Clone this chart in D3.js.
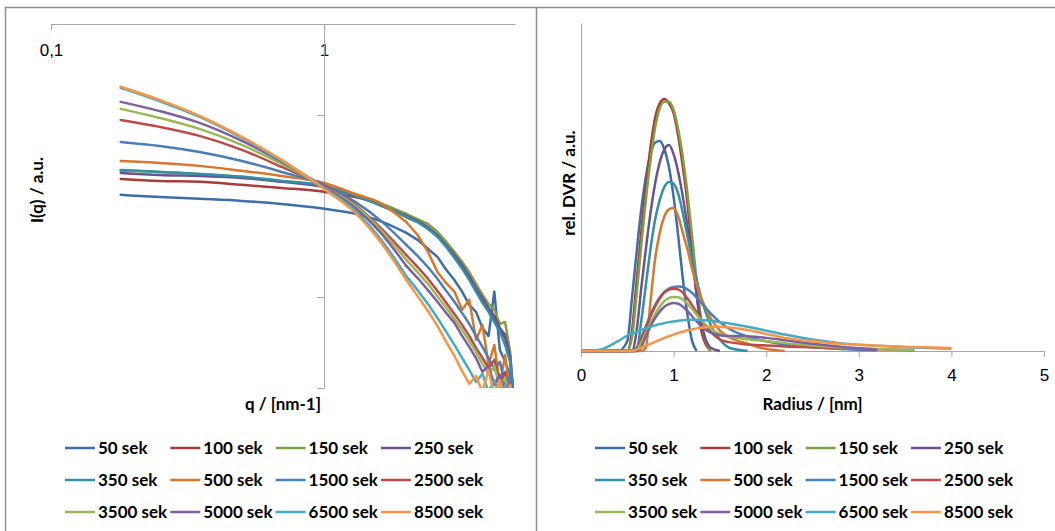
<!DOCTYPE html>
<html>
<head>
<meta charset="utf-8">
<script src="https://cdn.jsdelivr.net/npm/d3@7"></script>
<style>
  body { margin: 0; background: #fff; }
  svg { display: block; font-family: Lato, "Liberation Sans", sans-serif; }
</style>
</head>
<body>
<svg id="chart" width="1055" height="531"></svg>
<script>
const seriesNames = ["50 sek", "100 sek", "150 sek", "250 sek", "350 sek", "500 sek",
  "1500 sek", "2500 sek", "3500 sek", "5000 sek", "6500 sek", "8500 sek"];
const seriesColors = ["#3d6ea8", "#a63d3a", "#80a045", "#6b5390", "#3290a6", "#d9772d",
  "#4a7ebb", "#be4b48", "#98b954", "#7d60a0", "#46aac5", "#f79646"];

// scattering curves, q in nm-1
const qValues = [0.18, 0.25, 0.35, 0.5, 0.7, 1.0, 1.3, 1.6, 2.0, 2.2, 2.4, 2.6, 2.8, 3.0,
  3.2, 3.4, 3.6, 3.8, 4.0, 4.2, 4.4, 4.6, 4.8, 5.0];
const iq50 = [3.64, 3.54, 3.46, 3.37, 3.24, 3.05, 2.86, 2.62, 2.25, 2.06, 1.84, 1.66, 1.41, 1.24, 1.07, 0.905, 0.828, 0.676, 0.611, 1.07, 0.512, 0.44, 0.373, 0.272];
const iq100 = [4.45, 4.34, 4.29, 4.13, 3.97, 3.78, 3.54, 3.24, 2.75, 2.58, 2.39, 2.16, 1.91, 1.66, 1.46, 1.27, 1.09, 0.964, 0.849, 0.767, 0.659, 0.596, 0.451, 0.239];
const iq150 = [4.93, 4.86, 4.74, 4.57, 4.34, 4.07, 3.64, 3.29, 2.86, 2.68, 2.52, 2.28, 2.01, 1.77, 1.56, 1.37, 1.18, 1.03, 0.916, 0.849, 0.711, 0.729, 0.499, 0.211];
const iq250 = [4.80, 4.68, 4.62, 4.51, 4.29, 4.02, 3.59, 3.20, 2.79, 2.62, 2.42, 2.19, 1.93, 1.70, 1.50, 1.30, 1.12, 0.988, 0.871, 0.787, 0.676, 0.619, 0.474, 0.225];
const iq350 = [4.99, 4.86, 4.74, 4.57, 4.34, 4.07, 3.59, 3.20, 2.75, 2.58, 2.36, 2.14, 1.88, 1.64, 1.43, 1.24, 1.07, 0.928, 0.828, 0.729, 0.643, 0.545, 0.44, 0.239];
const iq500 = [5.59, 5.45, 5.25, 4.93, 4.62, 4.23, 3.68, 3.29, 2.58, 2.19, 1.77, 1.37, 1.19, 1.07, 0.849, 0.964, 0.581, 0.702, 0.423, 0.545, 0.329, 0.48, 0.289, 0.211];
const iq1500 = [7.11, 6.76, 6.26, 5.59, 4.86, 4.13, 3.33, 2.65, 1.93, 1.68, 1.46, 1.26, 1.08, 0.94, 0.817, 0.711, 0.611, 0.532, 0.462, 0.397, 0.44, 0.333, 0.368, 0.255];
const iq2500 = [9.39, 8.60, 7.67, 6.43, 5.18, 4.07, 3.20, 2.42, 1.70, 1.46, 1.26, 1.08, 0.928, 0.807, 0.702, 0.611, 0.525, 0.462, 0.407, 0.451, 0.341, 0.387, 0.289, 0.239];
const iq3500 = [10.8, 9.63, 8.38, 6.84, 5.38, 4.02, 3.16, 2.36, 1.60, 1.37, 1.18, 1.01, 0.871, 0.758, 0.659, 0.573, 0.499, 0.429, 0.378, 0.418, 0.316, 0.359, 0.278, 0.225];
const iq5000 = [11.8, 10.5, 9.04, 7.20, 5.52, 4.02, 3.08, 2.28, 1.48, 1.27, 1.09, 0.94, 0.817, 0.72, 0.611, 0.532, 0.462, 0.387, 0.418, 0.329, 0.373, 0.30, 0.341, 0.211];
const iq6500 = [14.1, 11.9, 9.76, 7.48, 5.59, 3.97, 2.97, 2.11, 1.30, 1.09, 0.916, 0.767, 0.643, 0.545, 0.462, 0.397, 0.341, 0.378, 0.30, 0.35, 0.278, 0.324, 0.272, 0.211];
const iq8500 = [14.3, 12.1, 9.88, 7.57, 5.66, 3.92, 2.90, 2.03, 1.24, 1.01, 0.838, 0.693, 0.566, 0.474, 0.392, 0.333, 0.368, 0.30, 0.397, 0.289, 0.35, 0.272, 0.329, 0.211];
const iqSeries = [iq50, iq100, iq150, iq250, iq350, iq500, iq1500, iq2500, iq3500, iq5000, iq6500, iq8500];
const qTicks = [0.1, 1];
const iqTicks = [10, 1, 0.316];
const noisyFrom = 8; // index in qValues where the tails get noisy

// size distributions, radius in nm
const radius = [0, 0.2, 0.4, 0.5, 0.55, 0.6, 0.65, 0.7, 0.75, 0.8, 0.85, 0.9, 0.95, 1.0, 1.05,
  1.1, 1.15, 1.2, 1.25, 1.3, 1.4, 1.5, 1.6, 1.8, 2.0, 2.2, 2.5, 2.8, 3.2, 3.6, 4.0];
const dvr50 = [0, 0, 0, 0.03, 0.16, 0.30, 0.43, 0.53, 0.60, 0.635, 0.64, 0.615, 0.56, 0.47, 0.35, 0.22, 0.11, 0.03, 0, null, null, null, null, null, null, null, null, null, null, null, null];
const dvr100 = [0, 0, 0, 0, 0.06, 0.21, 0.36, 0.50, 0.62, 0.71, 0.755, 0.768, 0.755, 0.725, 0.655, 0.56, 0.45, 0.30, 0.17, 0.06, 0, null, null, null, null, null, null, null, null, null, null];
const dvr150 = [0, 0, 0, 0, 0.04, 0.17, 0.32, 0.46, 0.58, 0.68, 0.74, 0.76, 0.76, 0.735, 0.675, 0.59, 0.48, 0.35, 0.21, 0.09, 0, null, null, null, null, null, null, null, null, null, null];
const dvr250 = [0, 0, 0, 0, 0, 0.06, 0.19, 0.31, 0.42, 0.51, 0.575, 0.615, 0.628, 0.60, 0.545, 0.47, 0.38, 0.28, 0.17, 0.085, 0.01, 0, null, null, null, null, null, null, null, null, null];
const dvr350 = [0, 0, 0, 0, 0, 0, 0.09, 0.20, 0.31, 0.40, 0.46, 0.50, 0.515, 0.51, 0.48, 0.42, 0.35, 0.28, 0.216, 0.16, 0.08, 0.035, 0.01, 0, null, null, null, null, null, null, null];
const dvr500 = [0, 0, 0, 0, 0, 0, 0, 0.01, 0.15, 0.28, 0.36, 0.41, 0.432, 0.436, 0.41, 0.36, 0.31, 0.25, 0.20, 0.16, 0.10, 0.062, 0.042, 0.022, 0.006, 0, null, null, null, null, null];
const dvr1500 = [0, 0, 0, 0, 0, 0.01, 0.04, 0.075, 0.11, 0.14, 0.163, 0.18, 0.19, 0.195, 0.197, 0.195, 0.188, 0.177, 0.162, 0.147, 0.115, 0.088, 0.068, 0.044, 0.03, 0.02, 0.012, 0.006, 0.002, null, null];
const dvr2500 = [0, 0, 0, 0, 0, 0.005, 0.035, 0.07, 0.105, 0.135, 0.16, 0.178, 0.187, 0.19, 0.188, 0.178, 0.16, 0.14, 0.118, 0.095, 0.058, 0.035, 0.027, 0.02, 0.017, 0.014, 0.011, 0.008, 0.005, 0.002, null];
const dvr3500 = [0, 0, 0, 0, 0, 0.003, 0.025, 0.055, 0.085, 0.112, 0.135, 0.152, 0.162, 0.165, 0.164, 0.157, 0.144, 0.128, 0.11, 0.093, 0.068, 0.052, 0.044, 0.036, 0.03, 0.024, 0.017, 0.011, 0.006, 0.003, null];
const dvr5000 = [0, 0, 0, 0, 0, 0, 0.012, 0.045, 0.075, 0.10, 0.12, 0.135, 0.143, 0.146, 0.144, 0.135, 0.122, 0.106, 0.09, 0.075, 0.056, 0.048, 0.046, 0.045, 0.04, 0.033, 0.022, 0.013, 0.004, null, null];
const dvr6500 = [0, 0.004, 0.03, 0.047, 0.053, 0.058, 0.064, 0.069, 0.074, 0.078, 0.082, 0.085, 0.088, 0.09, 0.092, 0.094, 0.095, 0.095, 0.095, 0.094, 0.092, 0.088, 0.084, 0.074, 0.062, 0.05, 0.035, 0.024, 0.016, 0.011, 0.007];
const dvr8500 = [0, 0, 0, 0, 0, 0.004, 0.01, 0.016, 0.022, 0.028, 0.034, 0.04, 0.045, 0.05, 0.055, 0.059, 0.063, 0.066, 0.069, 0.071, 0.074, 0.074, 0.072, 0.064, 0.052, 0.04, 0.03, 0.022, 0.016, 0.012, 0.009];
const dvrSeries = [dvr50, dvr100, dvr150, dvr250, dvr350, dvr500, dvr1500, dvr2500, dvr3500, dvr5000, dvr6500, dvr8500];
const radiusTicks = [0, 1, 2, 3, 4, 5];

const axisColor = "#a6a6a6";
const fontSize = 17;

const svg = d3.select("#chart");

// panel frames
svg.append("path")
  .attr("d", "M5.5,531V7.5H1055M536.5,7.5V531")
  .attr("fill", "none")
  .attr("stroke", "#8e8e8e")
  .attr("stroke-width", 1.5);

const styleAxis = (g) => {
  g.select(".domain").attr("stroke", axisColor);
  g.selectAll(".tick line").attr("stroke", axisColor);
  g.selectAll(".tick text").attr("fill", "#000").style("font-size", fontSize + "px");
};

// ---------- left chart: I(q) ----------
const xQ = d3.scaleLog().domain([0.1, 5]).range([51, 515]);
const yI = d3.scaleLog().domain([0.316, 31.6]).range([388, 24]);

svg.append("clipPath").attr("id", "clipLeft")
  .append("rect").attr("x", 51).attr("y", 24).attr("width", 464).attr("height", 364);

svg.append("g")
  .attr("transform", "translate(0,24)")
  .call(d3.axisBottom(xQ).tickValues(qTicks).tickSize(6).tickSizeOuter(0).tickPadding(14)
    .tickFormat((d) => (d < 1 ? "0,1" : "1")))
  .call(styleAxis);

svg.append("g")
  .attr("transform", "translate(" + xQ(1) + ",0)")
  .call(d3.axisLeft(yI).tickValues(iqTicks).tickSize(7).tickSizeOuter(0).tickFormat(""))
  .call(styleAxis);

// smooth low-q part, plain segments for the noisy tail so spikes stay sharp
const lineQSmooth = d3.line()
  .defined((d, i) => i <= noisyFrom)
  .x((d, i) => xQ(qValues[i]))
  .y((d) => yI(d))
  .curve(d3.curveMonotoneX);
const lineQTail = d3.line()
  .defined((d, i) => i >= noisyFrom)
  .x((d, i) => xQ(qValues[i]))
  .y((d) => yI(d));

const curvesQ = svg.append("g")
  .attr("clip-path", "url(#clipLeft)")
  .selectAll("g")
  .data(iqSeries)
  .enter()
  .append("g")
  .attr("fill", "none")
  .attr("stroke", (d, i) => seriesColors[i])
  .attr("stroke-width", 2.5)
  .attr("stroke-linejoin", "round")
  .attr("stroke-linecap", "round");
curvesQ.append("path").attr("d", lineQSmooth);
curvesQ.append("path").attr("d", lineQTail);

svg.append("text")
  .attr("x", (xQ.range()[0] + xQ.range()[1]) / 2)
  .attr("y", 410)
  .attr("text-anchor", "middle")
  .attr("font-weight", "bold")
  .style("font-size", fontSize + "px")
  .text("q / [nm-1]");

svg.append("text")
  .attr("transform", "translate(43,190) rotate(-90)")
  .attr("text-anchor", "middle")
  .attr("font-weight", "bold")
  .style("font-size", fontSize + "px")
  .text("I(q) / a.u.");

// ---------- right chart: DVR ----------
const xR = d3.scaleLinear().domain([0, 5]).range([581, 1044]);
const yR = d3.scaleLinear().domain([0, 1]).range([351, 23]);

svg.append("g")
  .attr("transform", "translate(0,351)")
  .call(d3.axisBottom(xR).tickValues(radiusTicks).tickSize(6).tickSizeOuter(0).tickPadding(12)
    .tickFormat(d3.format("d")))
  .call(styleAxis);

svg.append("g")
  .attr("transform", "translate(581,0)")
  .call(d3.axisLeft(yR).tickValues([]).tickSizeOuter(0))
  .call(styleAxis);

const lineR = d3.line()
  .defined((d) => d !== null)
  .x((d, i) => xR(radius[i]))
  .y((d) => yR(d))
  .curve(d3.curveMonotoneX);

svg.append("g")
  .selectAll("path")
  .data(dvrSeries)
  .enter()
  .append("path")
  .attr("d", lineR)
  .attr("fill", "none")
  .attr("stroke", (d, i) => seriesColors[i])
  .attr("stroke-width", 2.5)
  .attr("stroke-linejoin", "round");

svg.append("text")
  .attr("x", (xR.range()[0] + xR.range()[1]) / 2)
  .attr("y", 410)
  .attr("text-anchor", "middle")
  .attr("font-weight", "bold")
  .style("font-size", fontSize + "px")
  .text("Radius / [nm]");

svg.append("text")
  .attr("transform", "translate(575,183) rotate(-90)")
  .attr("text-anchor", "middle")
  .attr("font-weight", "bold")
  .style("font-size", fontSize + "px")
  .text("rel. DVR / a.u.");

// ---------- legends ----------
const legendRows = [448, 480, 512];
const drawLegend = (x0) => {
  const items = svg.append("g")
    .selectAll("g")
    .data(seriesNames)
    .enter()
    .append("g")
    .attr("transform", (d, i) =>
      "translate(" + (x0 + (i % 4) * 105.3) + "," + legendRows[Math.floor(i / 4)] + ")");
  items.append("line")
    .attr("x1", 0).attr("x2", 30)
    .attr("stroke", (d, i) => seriesColors[i])
    .attr("stroke-width", 2.5);
  items.append("text")
    .attr("x", 33)
    .attr("dy", "0.35em")
    .attr("font-weight", "bold")
    .style("font-size", fontSize + "px")
    .text((d) => d);
};
drawLegend(65);
drawLegend(595);
</script>
</body>
</html>
